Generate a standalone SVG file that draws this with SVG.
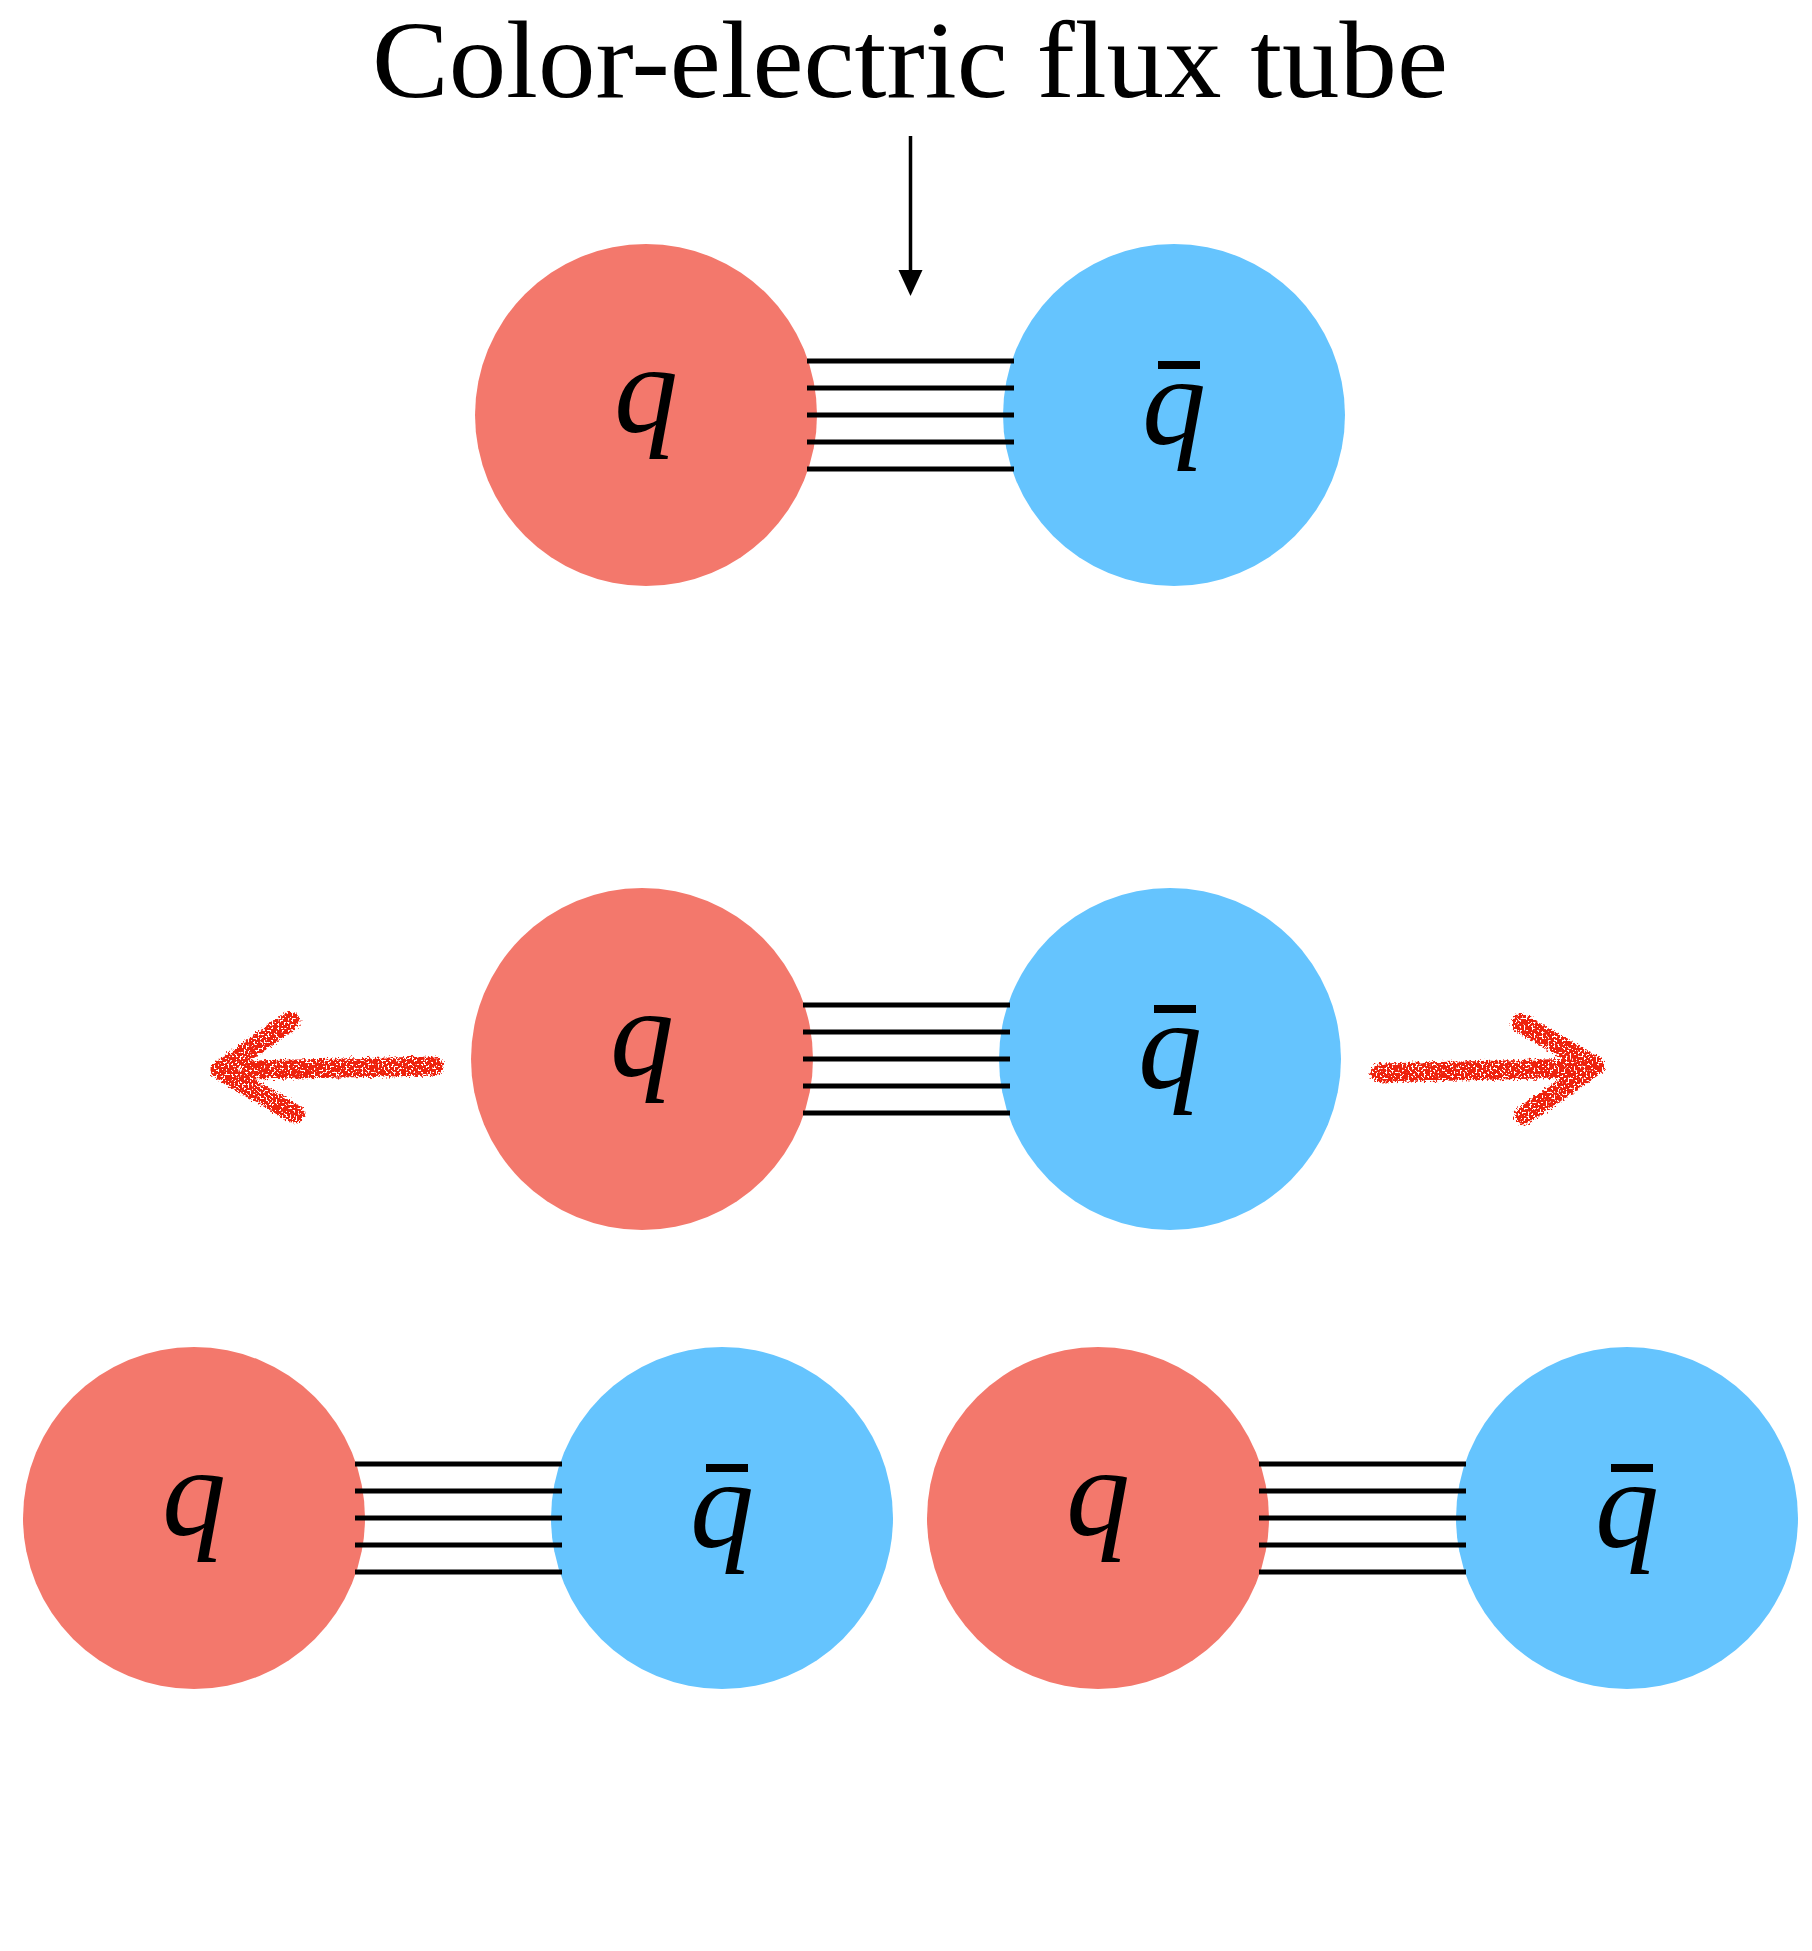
<svg xmlns="http://www.w3.org/2000/svg" width="1812" height="1951" viewBox="0 0 1812 1951">
<style>
.q{fill:#F3786C}
.qb{fill:#65C4FE}
.lbl{font-family:"Liberation Serif","Times New Roman",serif;font-style:italic;font-size:128px;fill:#000;text-anchor:middle}
.bar{fill:#000}
.tube line{stroke:#000;stroke-width:5}
.chalk{fill:none;stroke:#EE2211;stroke-width:19;stroke-linecap:round;stroke-linejoin:round}
.title{font-family:"Liberation Serif","Times New Roman",serif;font-size:110px;fill:#000}
</style>
<defs>
<filter id="rough" filterUnits="userSpaceOnUse" x="150" y="980" width="1550" height="180">
<feTurbulence type="fractalNoise" baseFrequency="0.45" numOctaves="2" seed="4" result="n"/>
<feDisplacementMap in="SourceGraphic" in2="n" scale="8" xChannelSelector="R" yChannelSelector="G" result="d"/>
<feTurbulence type="fractalNoise" baseFrequency="0.5" numOctaves="1" seed="9" result="n2"/>
<feColorMatrix in="n2" type="matrix" values="0 0 0 0 0  0 0 0 0 0  0 0 0 0 0  0 0 0 -16 10" result="mask"/>
<feComposite in="d" in2="mask" operator="in"/>
</filter>
</defs>
<rect width="1812" height="1951" fill="#fff"/>
<g id="title"><text class="title" x="372" y="97" textLength="1076" lengthAdjust="spacingAndGlyphs">Color-electric flux tube</text></g>

<g id="q1"><circle class="q" cx="646" cy="415" r="171"/><text class="lbl" x="646" y="432">q</text></g>
<g id="qbar1"><circle class="qb" cx="1174" cy="415" r="171"/><rect class="bar" x="1158" y="361" width="42" height="8"/><text class="lbl" x="1174" y="444">q</text></g>
<g id="q2"><circle class="q" cx="642" cy="1059" r="171"/><text class="lbl" x="642" y="1076">q</text></g>
<g id="qbar2"><circle class="qb" cx="1170" cy="1059" r="171"/><rect class="bar" x="1154" y="1005" width="42" height="8"/><text class="lbl" x="1170" y="1088">q</text></g>
<g id="q3"><circle class="q" cx="194" cy="1518" r="171"/><text class="lbl" x="194" y="1535">q</text></g>
<g id="qbar3"><circle class="qb" cx="722" cy="1518" r="171"/><rect class="bar" x="706" y="1464" width="42" height="8"/><text class="lbl" x="722" y="1547">q</text></g>
<g id="q4"><circle class="q" cx="1098" cy="1518" r="171"/><text class="lbl" x="1098" y="1535">q</text></g>
<g id="qbar4"><circle class="qb" cx="1627" cy="1518" r="171"/><rect class="bar" x="1611" y="1464" width="42" height="8"/><text class="lbl" x="1627" y="1547">q</text></g>

<g id="connectors">
<g class="tube">
<line x1="807" y1="361" x2="1014" y2="361"/><line x1="807" y1="388" x2="1014" y2="388"/><line x1="807" y1="415" x2="1014" y2="415"/><line x1="807" y1="442" x2="1014" y2="442"/><line x1="807" y1="469" x2="1014" y2="469"/>
</g>
<g class="tube">
<line x1="803" y1="1005" x2="1010" y2="1005"/><line x1="803" y1="1032" x2="1010" y2="1032"/><line x1="803" y1="1059" x2="1010" y2="1059"/><line x1="803" y1="1086" x2="1010" y2="1086"/><line x1="803" y1="1113" x2="1010" y2="1113"/>
</g>
<g class="tube">
<line x1="355" y1="1464" x2="562" y2="1464"/><line x1="355" y1="1491" x2="562" y2="1491"/><line x1="355" y1="1518" x2="562" y2="1518"/><line x1="355" y1="1545" x2="562" y2="1545"/><line x1="355" y1="1572" x2="562" y2="1572"/>
</g>
<g class="tube">
<line x1="1259" y1="1464" x2="1466" y2="1464"/><line x1="1259" y1="1491" x2="1466" y2="1491"/><line x1="1259" y1="1518" x2="1466" y2="1518"/><line x1="1259" y1="1545" x2="1466" y2="1545"/><line x1="1259" y1="1572" x2="1466" y2="1572"/>
</g>
<line x1="910.5" y1="136" x2="910.5" y2="272" stroke="#000" stroke-width="3.5"/>
<path d="M898.5 270 L922.5 270 L910.5 296 Z" fill="#000"/>
<g filter="url(#rough)">
<g id="pull-left"><path class="chalk" d="M434 1066 L250 1070"/><path class="chalk" d="M290 1021 L220 1070 L295 1114"/></g>
<g id="pull-right"><path class="chalk" d="M1380 1073 L1582 1068"/><path class="chalk" d="M1521 1023 L1595 1066 L1524 1115"/></g>
</g>
</g>
</svg>
